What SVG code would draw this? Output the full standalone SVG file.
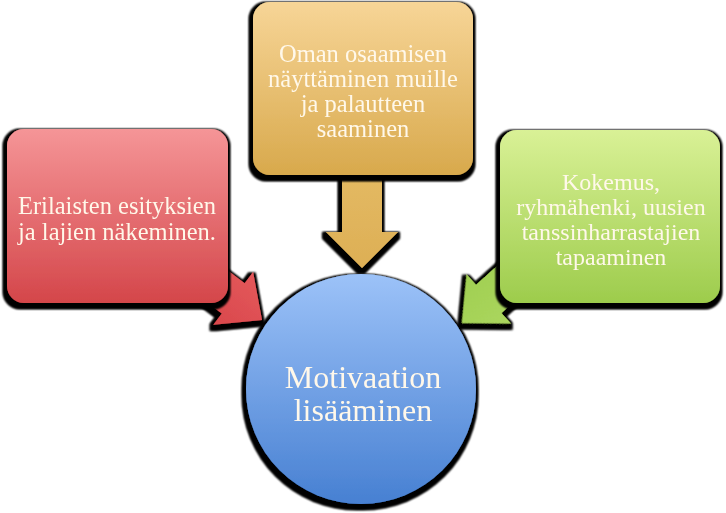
<svg xmlns="http://www.w3.org/2000/svg" width="726" height="513" viewBox="0 0 726 513">
<style>
.t{font-family:"Liberation Serif","DejaVu Serif",serif;fill:#FFF8EA;text-anchor:middle;}
.s{font-size:24.5px;}
.g{font-size:24px;}
.c{font-size:32px;}
</style>
<defs>
<filter id="sh" x="-15%" y="-15%" width="130%" height="130%">
<feMorphology in="SourceAlpha" operator="dilate" radius="3" result="d"/>
<feOffset in="d" dx="-1.5" dy="2.5" result="o"/>
<feGaussianBlur in="o" stdDeviation="0.8" result="b"/>
<feMerge><feMergeNode in="b"/><feMergeNode in="b"/><feMergeNode in="SourceGraphic"/></feMerge>
</filter>
<linearGradient id="gr" x1="0" y1="0" x2="0" y2="1"><stop offset="0" stop-color="#F59597"/><stop offset="1" stop-color="#D4464A"/></linearGradient>
<linearGradient id="gg" x1="0" y1="0" x2="0" y2="1"><stop offset="0" stop-color="#F7D597"/><stop offset="1" stop-color="#D8A94C"/></linearGradient>
<linearGradient id="gn" x1="0" y1="0" x2="0" y2="1"><stop offset="0" stop-color="#D9F196"/><stop offset="1" stop-color="#9DCC4C"/></linearGradient>
<linearGradient id="gb" x1="0" y1="0" x2="0" y2="1"><stop offset="0" stop-color="#9CC2F8"/><stop offset="1" stop-color="#4780D2"/></linearGradient>
<linearGradient id="ar" x1="0" y1="0" x2="0" y2="1"><stop offset="0" stop-color="#E4585B"/><stop offset="1" stop-color="#D9484C"/></linearGradient>
<linearGradient id="ag" x1="0" y1="0" x2="0" y2="1"><stop offset="0" stop-color="#E5BC66"/><stop offset="1" stop-color="#DDAF55"/></linearGradient>
<linearGradient id="an" x1="0" y1="0" x2="0" y2="1"><stop offset="0" stop-color="#ABD65E"/><stop offset="1" stop-color="#A0CF52"/></linearGradient>
</defs>
<g id="connectors" filter="url(#sh)">
<polygon transform="translate(262,320) rotate(37)" points="-120,-19 -36,-19 -36,-33 0,0 -36,33 -36,19 -120,19" fill="url(#ar)"/>
<polygon points="342,150 382,150 382,232 398,232 362,268 326,232 342,232" fill="url(#ag)"/>
<polygon transform="translate(462,323) rotate(138)" points="-120,-19 -36,-19 -36,-33 0,0 -36,33 -36,19 -120,19" fill="url(#an)"/>
</g>
<g id="node-red">
<rect x="7" y="129" width="221" height="174" rx="17" fill="url(#gr)" filter="url(#sh)"/>
<text class="t s" x="117" y="214">Erilaisten esityksien</text>
<text class="t s" x="117" y="240">ja lajien näkeminen.</text>
</g>
<g id="node-gold">
<rect x="253" y="2" width="220" height="173" rx="17" fill="url(#gg)" filter="url(#sh)"/>
<text class="t s" x="363" y="62">Oman osaamisen</text>
<text class="t s" x="363" y="87">näyttäminen muille</text>
<text class="t s" x="363" y="112">ja palautteen</text>
<text class="t s" x="363" y="137">saaminen</text>
</g>
<g id="node-green">
<rect x="500" y="130" width="220" height="173" rx="17" fill="url(#gn)" filter="url(#sh)"/>
<text class="t g" x="611" y="190">Kokemus,</text>
<text class="t g" x="611" y="215">ryhmähenki, uusien</text>
<text class="t g" x="611" y="240">tanssinharrastajien</text>
<text class="t g" x="611" y="265">tapaaminen</text>
</g>
<g id="node-circle">
<circle cx="361" cy="389" r="115" fill="url(#gb)" filter="url(#sh)"/>
<text class="t c" x="363" y="388">Motivaation</text>
<text class="t c" x="363" y="421">lisääminen</text>
</g>
</svg>
